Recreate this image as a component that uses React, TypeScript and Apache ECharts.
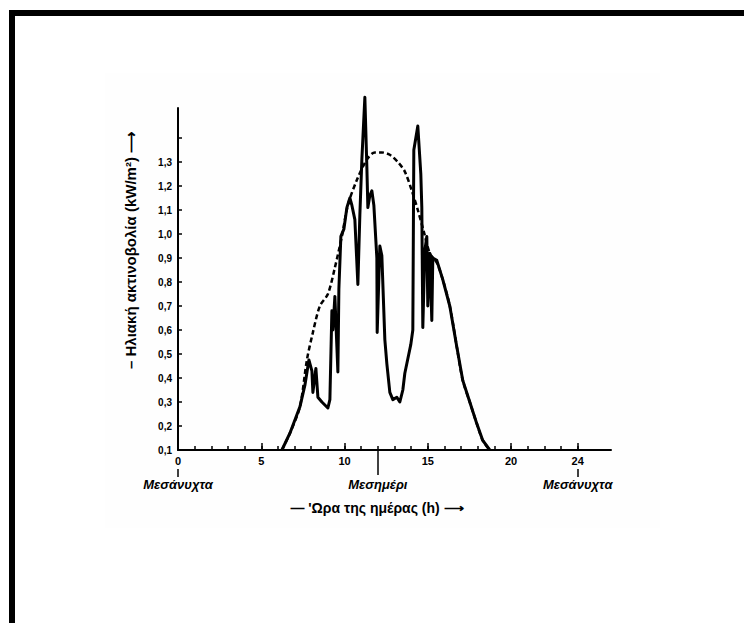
import React, { useEffect, useRef } from "react";
import * as echarts from "echarts";

// Measured solar irradiance (hour, kW/m²)
const measuredHours = [
  6.24, 6.72, 7.32, 7.62, 7.86, 8.04, 8.1, 8.28, 8.4, 8.64, 9.0, 9.12, 9.24, 9.3, 9.42, 9.54, 9.6, 9.66, 9.78, 9.96,
  10.14, 10.32, 10.44, 10.62, 10.8, 10.92, 11.04, 11.22, 11.34, 11.4, 11.52, 11.64, 11.76, 11.94, 11.96, 12.12, 12.24,
  12.42, 12.54, 12.72, 12.9, 13.14, 13.32, 13.5, 13.62, 13.86, 13.98, 14.1, 14.16, 14.4, 14.58, 14.64, 14.7, 14.82,
  14.94, 15.0, 15.12, 15.24, 15.3, 15.54, 15.9, 16.32, 16.74, 17.1, 17.52, 17.94, 18.3, 18.72,
];
const measuredValues = [
  0.1, 0.17, 0.28, 0.37, 0.475, 0.43, 0.34, 0.44, 0.32, 0.3, 0.275, 0.31, 0.68, 0.6, 0.74, 0.53, 0.425, 0.77, 0.99, 1.02,
  1.11, 1.15, 1.12, 1.06, 0.79, 1.08, 1.31, 1.57, 1.28, 1.11, 1.16, 1.18, 1.12, 0.9, 0.59, 0.95, 0.91,
  0.56, 0.46, 0.34, 0.31, 0.32, 0.3, 0.35, 0.42, 0.5, 0.54, 0.6, 1.35, 1.45, 1.25, 1.11, 0.61, 0.93,
  0.99, 0.7, 0.92, 0.64, 0.9, 0.89, 0.81, 0.7, 0.53, 0.39, 0.3, 0.21, 0.14, 0.1,
];

// Clear-sky (dashed) curve
const clearHours = [
  6.24, 6.72, 7.32, 7.74, 8.1, 8.52, 9.0, 9.42, 9.84, 10.2, 10.74, 11.34, 11.82, 12.24, 12.72, 13.2, 13.62, 14.04, 14.4,
  14.76, 15.12, 15.54, 15.9, 16.32, 16.74, 17.1, 17.52, 17.94, 18.3, 18.72,
];
const clearValues = [
  0.1, 0.17, 0.28, 0.475, 0.59, 0.7, 0.75, 0.86, 0.99, 1.12, 1.225, 1.31, 1.34, 1.34, 1.33, 1.3, 1.26, 1.18, 1.1,
  1.01, 0.92, 0.88, 0.81, 0.7, 0.53, 0.39, 0.3, 0.21, 0.14, 0.1,
];

const xMinorTicks = [0, 1, 2, 3, 4, 5, 6, 7, 8, 9, 10, 11, 12, 13, 14, 15, 16, 17, 18, 19, 20, 21, 22, 23, 24];
const xMajorTicks = [0, 5, 10, 15, 20, 24];
const xLabels = [0, 5, 10, 15, 20, 24];
const dayMarks = [0, 12, 24];
const dayMarkNames = ["Μεσάνυχτα", "Μεσημέρι", "Μεσάνυχτα"];
const yTicks = [0.1, 0.2, 0.3, 0.4, 0.5, 0.6, 0.7, 0.8, 0.9, 1.0, 1.1, 1.2, 1.3, 1.4];
const yLabels = [0.1, 0.2, 0.3, 0.4, 0.5, 0.6, 0.7, 0.8, 0.9, 1.0, 1.1, 1.2, 1.3];

const yTitle = "– Ηλιακή ακτινοβολία (kW/m²) ⟶";
const xTitle = "— 'Ωρα της ημέρας (h) ⟶";

const FONT = "Liberation Sans, Arial, sans-serif";

export default function App() {
  const ref = useRef<HTMLDivElement>(null);
  useEffect(() => {
    if (!ref.current) return;
    const chart = echarts.init(ref.current, undefined, { renderer: "svg" });
    const baseX = { type: "value" as const, min: 0, max: 26, gridIndex: 0, position: "bottom" as const, splitLine: { show: false } };
    chart.setOption({
      animation: false,
      backgroundColor: "#ffffff",
      grid: { left: 178, top: 108, width: 433, height: 342, containLabel: false },
      xAxis: [
        {
          ...baseX,
          axisLine: { show: true, lineStyle: { color: "#000", width: 2 } },
          axisTick: { show: true, inside: true, length: 4, customValues: xMinorTicks, lineStyle: { color: "#000", width: 1.5 } },
          axisLabel: {
            show: true,
            customValues: xLabels,
            margin: 5,
            color: "#000",
            fontFamily: FONT,
            fontWeight: "bold",
            fontSize: 11,
          },
        },
        {
          ...baseX,
          axisLine: { show: false },
          axisTick: { show: true, inside: true, length: 7, customValues: xMajorTicks, lineStyle: { color: "#000", width: 1.5 } },
          axisLabel: { show: false },
        },
        {
          ...baseX,
          axisLine: { show: false },
          axisTick: { show: true, inside: false, length: 25, customValues: [12], lineStyle: { color: "#000", width: 1.5 } },
          axisLabel: {
            show: true,
            customValues: dayMarks,
            margin: 28,
            formatter: (v: number) => dayMarkNames[dayMarks.indexOf(v)] ?? "",
            color: "#000",
            fontFamily: FONT,
            fontWeight: "bold",
            fontStyle: "italic",
            fontSize: 13,
          },
        },
        {
          ...baseX,
          offset: 19,
          axisLine: { show: false },
          axisTick: { show: true, inside: false, length: 8, customValues: [0, 24], lineStyle: { color: "#000", width: 1.5 } },
          axisLabel: { show: false },
        },
      ],
      yAxis: {
        type: "value",
        min: 0.1,
        max: 1.525,
        splitLine: { show: false },
        axisLine: { show: true, lineStyle: { color: "#000", width: 2 } },
        axisTick: { show: true, inside: true, length: 4, customValues: yTicks, lineStyle: { color: "#000", width: 1.5 } },
        axisLabel: {
          show: true,
          customValues: yLabels,
          margin: 6,
          formatter: (v: number) => v.toFixed(1).replace(".", ","),
          color: "#000",
          fontFamily: FONT,
          fontWeight: "bold",
          fontSize: 10,
        },
      },
      graphic: [
        { type: "rect", shape: { x: 105, y: 73, width: 555, height: 455 }, style: { fill: "#fefefe" }, z: -10 },
        { type: "rect", shape: { x: 9, y: 10, width: 735, height: 6 }, style: { fill: "#000" } },
        { type: "rect", shape: { x: 9, y: 10, width: 6, height: 613 }, style: { fill: "#000" } },
        {
          type: "text",
          x: 130,
          y: 250,
          rotation: Math.PI / 2,
          style: {
            text: yTitle,
            align: "center",
            verticalAlign: "middle",
            fill: "#000",
            font: `bold 15px ${FONT}`,
          },
        },
        {
          type: "text",
          x: 377,
          y: 508,
          style: {
            text: xTitle,
            align: "center",
            verticalAlign: "middle",
            fill: "#000",
            font: `bold 14px ${FONT}`,
          },
        },
      ],
      series: [
        {
          type: "line",
          xAxisIndex: 0,
          data: clearHours.map((h, i) => [h, clearValues[i]]),
          smooth: 0.3,
          showSymbol: false,
          clip: false,
          lineStyle: { color: "#000", width: 2.5, type: [5, 3] },
          z: 2,
        },
        {
          type: "line",
          xAxisIndex: 0,
          data: measuredHours.map((h, i) => [h, measuredValues[i]]),
          showSymbol: false,
          clip: false,
          lineStyle: { color: "#000", width: 3, join: "round" },
          z: 3,
        },
      ],
    });
    return () => chart.dispose();
  }, []);
  return <div ref={ref} style={{ position: "absolute", left: 0, top: 0, width: 744, height: 623 }} />;
}
